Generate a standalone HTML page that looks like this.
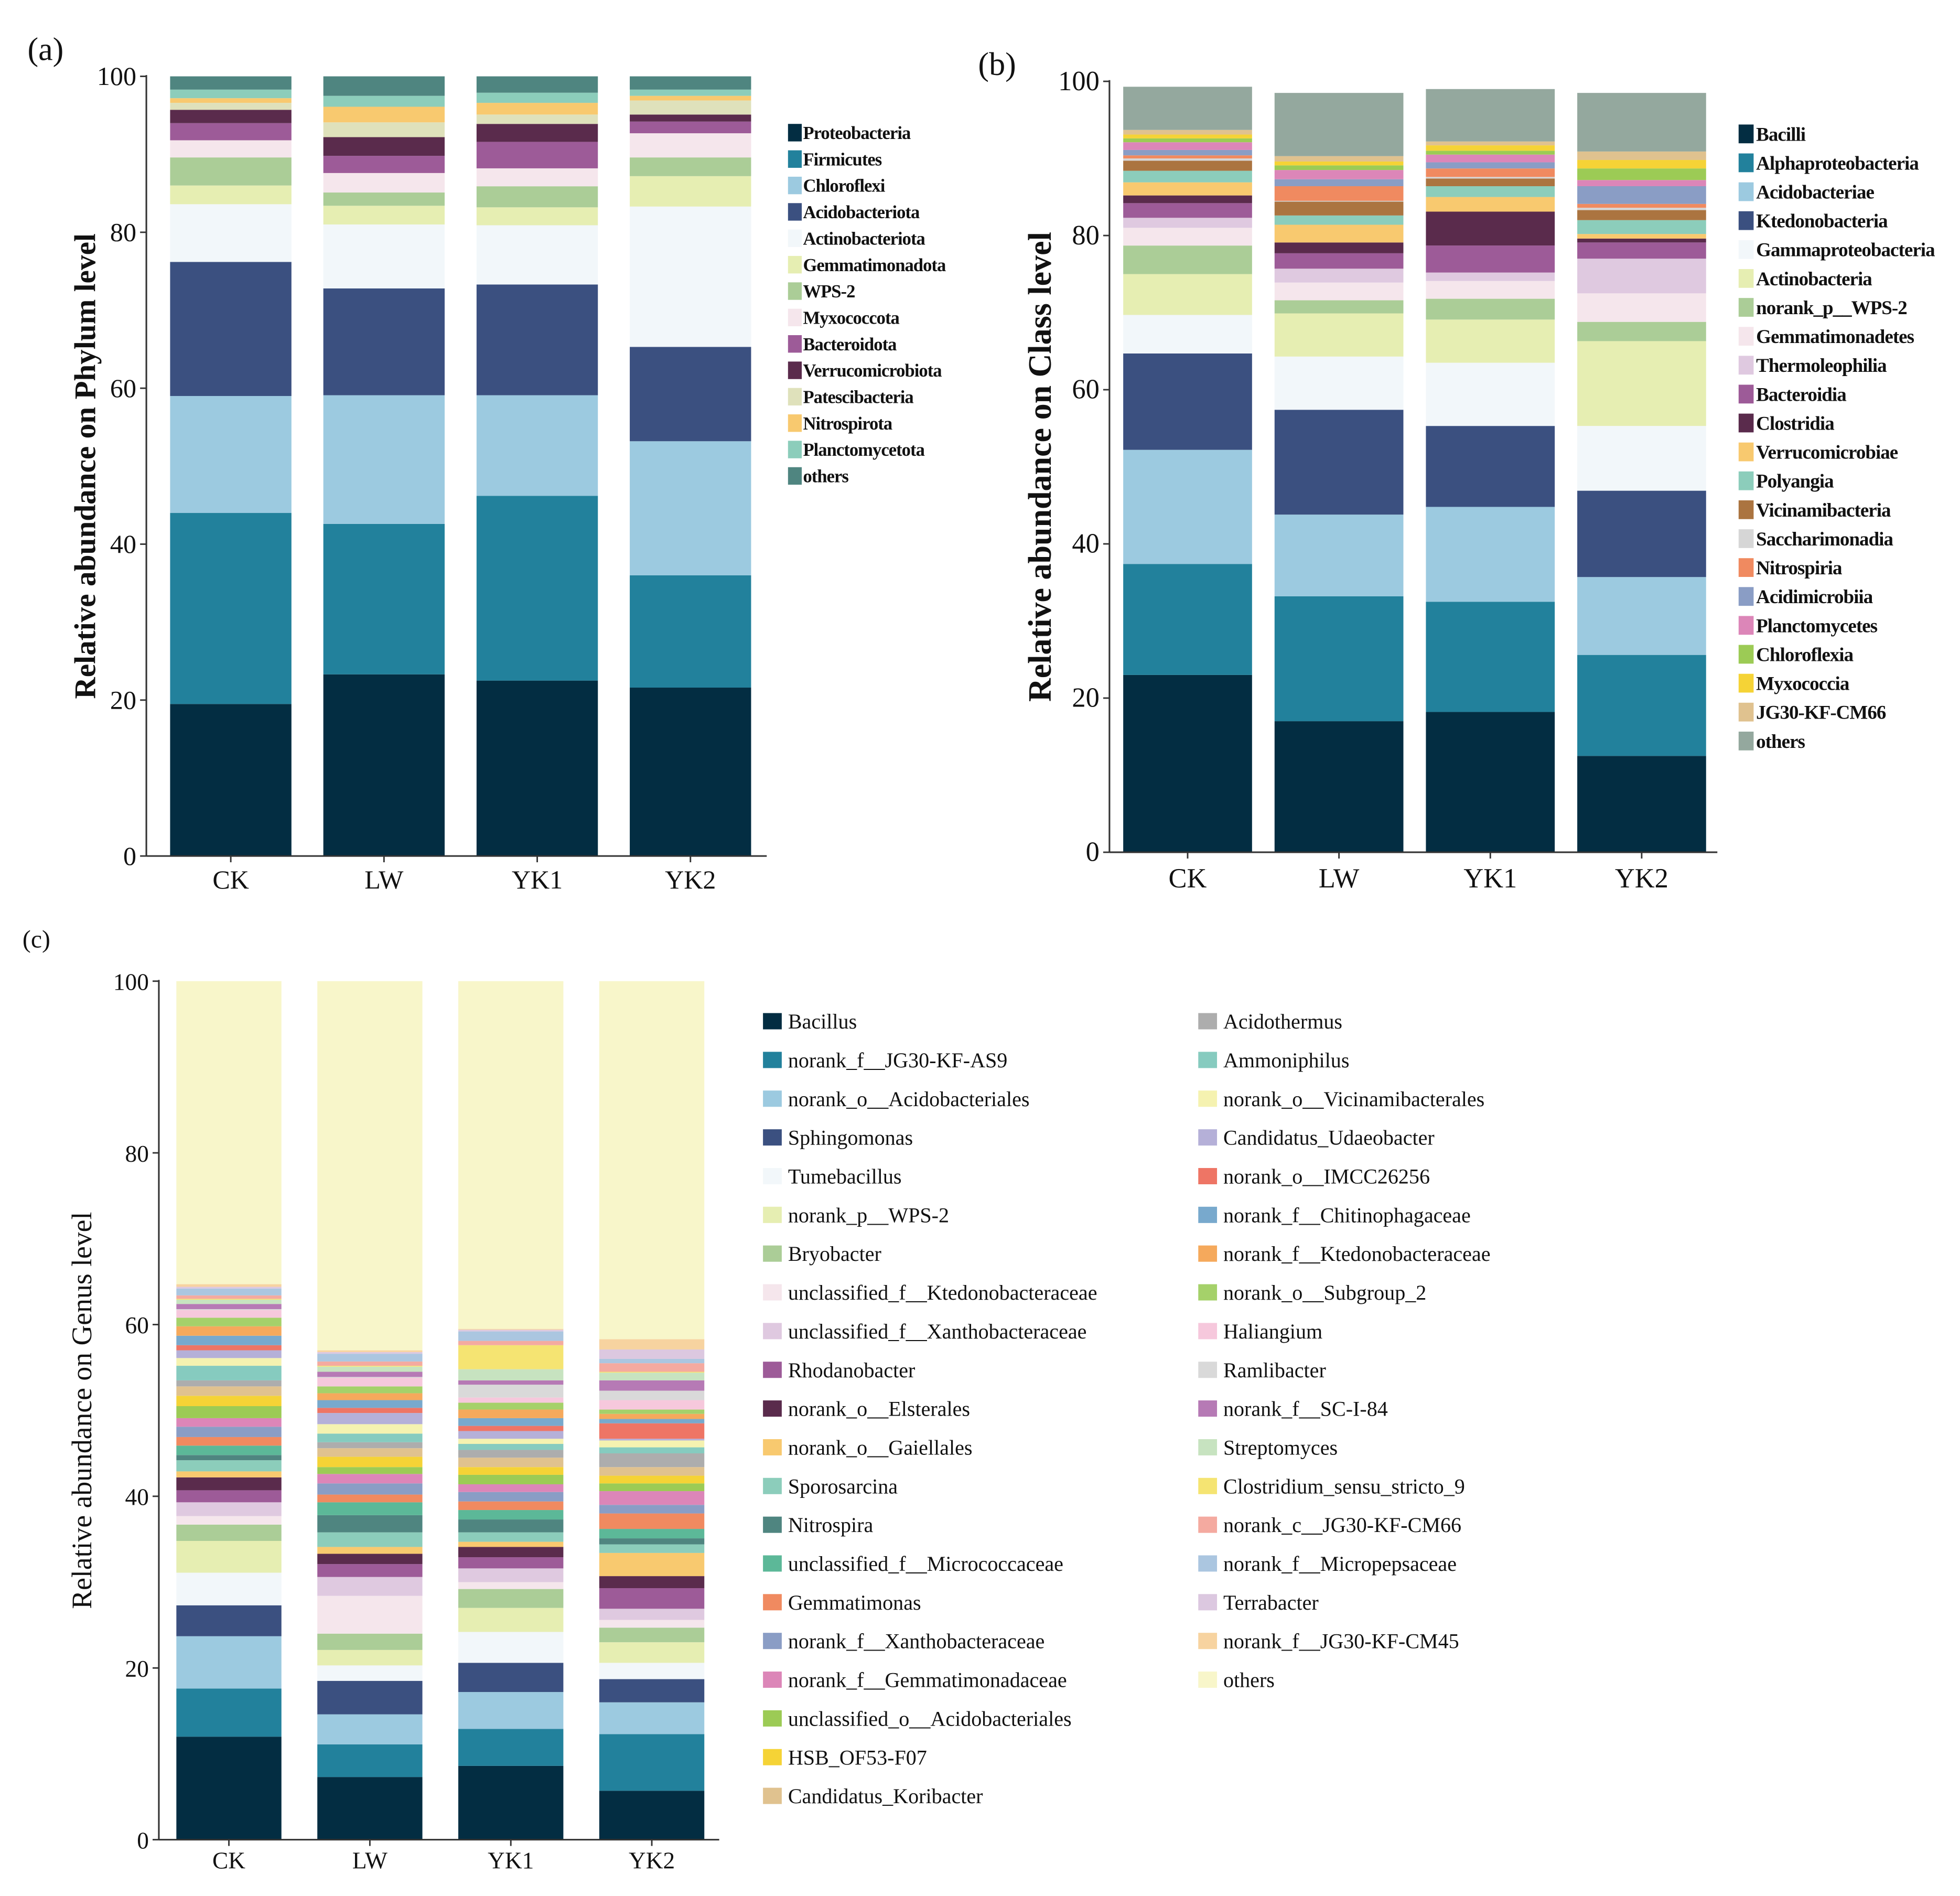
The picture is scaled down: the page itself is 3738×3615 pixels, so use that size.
<!DOCTYPE html>
<html><head><meta charset="utf-8"><style>
html,body{margin:0;padding:0;background:#fff;}
svg{display:block;}
text{font-family:"Liberation Serif",serif;fill:#111;}
</style></head><body>
<svg id="fig" xmlns="http://www.w3.org/2000/svg" width="3738" height="3615" viewBox="0 0 1567 1515" preserveAspectRatio="none">
<rect width="1567" height="1515" fill="#fff"/>
</svg>
<script>
// ---------- shared ----------
const samples = ["CK","LW","YK1","YK2"];
const yTicks = [0,20,40,60,80,100];

// ---------- panel (a) Phylum ----------
const phylumNames = ["Proteobacteria","Firmicutes","Chloroflexi","Acidobacteriota","Actinobacteriota","Gemmatimonadota","WPS-2","Myxococcota","Bacteroidota","Verrucomicrobiota","Patescibacteria","Nitrospirota","Planctomycetota","others"];
const phylumColors = ["#032d42","#22819c","#9ccae0","#3b5080","#f2f7fa","#e6eeb2","#abcd97","#f5e6ec","#9d5b98","#5a2b4c","#dfe1bb","#f8c96f","#8ccdbb","#4f8580"];
// cumulative tops (%) per sample
const phylumCumCK  = [19.5,44.0,59.0,76.2,83.6,86.0,89.6,91.8,94.0,95.7,96.6,97.2,98.3,100];
const phylumCumLW  = [23.3,42.6,59.1,72.8,81.0,83.4,85.1,87.6,89.8,92.2,94.1,96.1,97.5,100];
const phylumCumYK1 = [22.5,46.2,59.1,73.3,80.9,83.2,85.9,88.2,91.6,93.9,95.1,96.6,97.9,100];
const phylumCumYK2 = [21.6,36.0,53.2,65.3,83.3,87.2,89.6,92.7,94.2,95.1,96.9,97.5,98.3,100];

// ---------- panel (b) Class ----------
const classNames = ["Bacilli","Alphaproteobacteria","Acidobacteriae","Ktedonobacteria","Gammaproteobacteria","Actinobacteria","norank_p__WPS-2","Gemmatimonadetes","Thermoleophilia","Bacteroidia","Clostridia","Verrucomicrobiae","Polyangia","Vicinamibacteria","Saccharimonadia","Nitrospiria","Acidimicrobiia","Planctomycetes","Chloroflexia","Myxococcia","JG30-KF-CM66","others"];
const classColors = ["#032d42","#22819c","#9ccae0","#3b5080","#f2f7fa","#e6eeb2","#abcd97","#f5e6ec","#dfc9e0","#9d5b98","#5a2b4c","#f8c96f","#8ccdbb","#ab7440","#d6d6d6","#f08a60","#8a9dc5","#dc86b8","#9ccb55","#f5d336","#e0c28f","#94a89e"];
const classCumCK  = [23.0,37.4,52.2,64.7,69.7,75.0,78.7,81.0,82.3,84.2,85.2,86.9,88.4,89.7,90.0,90.4,91.1,92.1,92.6,93.1,93.7,99.3];
const classCumLW  = [17.0,33.2,43.8,57.4,64.3,69.9,71.6,73.9,75.7,77.7,79.1,81.4,82.6,84.4,84.5,86.4,87.3,88.5,89.1,89.6,90.3,98.5];
const classCumYK1 = [18.2,32.5,44.8,55.3,63.5,69.1,71.8,74.1,75.2,78.7,83.1,85.0,86.4,87.4,87.6,88.7,89.5,90.5,91.0,91.7,92.2,99.0];
const classCumYK2 = [12.5,25.6,35.7,46.9,55.3,66.3,68.8,72.5,77.0,79.1,79.6,80.2,82.0,83.3,83.6,84.1,86.4,87.2,88.7,89.8,90.9,98.5];

// ---------- panel (c) Genus ----------
const genusNames = ["Bacillus","norank_f__JG30-KF-AS9","norank_o__Acidobacteriales","Sphingomonas","Tumebacillus","norank_p__WPS-2","Bryobacter","unclassified_f__Ktedonobacteraceae","unclassified_f__Xanthobacteraceae","Rhodanobacter","norank_o__Elsterales","norank_o__Gaiellales","Sporosarcina","Nitrospira","unclassified_f__Micrococcaceae","Gemmatimonas","norank_f__Xanthobacteraceae","norank_f__Gemmatimonadaceae","unclassified_o__Acidobacteriales","HSB_OF53-F07","Candidatus_Koribacter","Acidothermus","Ammoniphilus","norank_o__Vicinamibacterales","Candidatus_Udaeobacter","norank_o__IMCC26256","norank_f__Chitinophagaceae","norank_f__Ktedonobacteraceae","norank_o__Subgroup_2","Haliangium","Ramlibacter","norank_f__SC-I-84","Streptomyces","Clostridium_sensu_stricto_9","norank_c__JG30-KF-CM66","norank_f__Micropepsaceae","Terrabacter","norank_f__JG30-KF-CM45","others"];
const genusColors = ["#032d42","#22819c","#9ccae0","#3b5080","#f2f7fa","#e6eeb2","#abcd97","#f5e6ec","#dfc9e0","#9d5b98","#5a2b4c","#f8c96f","#8ccdbb","#4f8580","#5cb898","#f08a60","#8a9dc5","#dc86b8","#9ccb55","#f5d336","#e0c28f","#adadad","#86cbbf","#f5f2b0","#b5b0d8","#ee7565","#78a9cd","#f5a95c","#a5d16a","#f6c8dc","#d9d9d9","#b67ab5","#c7e3c0","#f5e472","#f4aaa0","#abc6e0","#dcc8e0","#f7d3a0","#f8f6ca"];
const genusCumCK  = [12.0,17.6,23.7,27.3,31.1,34.8,36.7,37.7,39.3,40.7,42.2,42.9,44.2,44.8,45.9,46.9,48.1,49.1,50.5,51.7,52.8,53.5,55.2,56.1,57.0,57.6,58.7,59.8,60.8,61.7,61.8,62.4,62.9,63.0,63.4,64.2,64.4,64.7,100];
const genusCumLW  = [7.3,11.1,14.6,18.5,20.3,22.1,24.0,28.4,30.6,32.1,33.3,34.1,35.8,37.8,39.3,40.2,41.5,42.6,43.4,44.6,45.6,46.3,47.3,48.4,49.7,50.3,51.2,52.0,52.8,53.8,53.9,54.5,55.1,55.2,55.7,56.6,56.8,57.0,100];
const genusCumYK1 = [8.6,12.9,17.2,20.6,24.2,27.0,29.2,30.0,31.6,32.9,34.1,34.7,35.8,37.3,38.4,39.4,40.5,41.4,42.5,43.4,44.5,45.4,46.1,46.7,47.6,48.2,49.1,50.1,50.9,51.5,53.0,53.5,54.8,57.6,58.1,59.2,59.4,59.5,100];
const genusCumYK2 = [5.7,12.3,16.0,18.7,20.6,23.0,24.7,25.6,26.9,29.3,30.7,33.4,34.4,35.1,36.2,38.0,39.0,40.6,41.5,42.4,43.4,45.0,45.7,46.5,46.7,48.5,49.0,49.6,50.1,51.2,52.3,53.5,54.4,54.5,55.5,56.0,57.1,58.3,100];

const NS="http://www.w3.org/2000/svg";
const svg=document.getElementById('fig');
function mk(tag,attrs,parent){const e=document.createElementNS(NS,tag);for(const k in attrs)e.setAttribute(k,attrs[k]);(parent||svg).appendChild(e);return e;}

function drawPanel(cfg){
  const g=mk('g',{});
  
  
  const yS=v=>cfg.bottom-v/100*(cfg.bottom-cfg.top);
  const xS=i=>cfg.barX0+i*cfg.barStep;
  cfg.cums.forEach((cum,si)=>{
    let prev=0;
    cum.forEach((c,ti)=>{
      const r=mk('rect',{x:xS(si),y:yS(c),width:cfg.barW,height:Math.max(0,yS(prev)-yS(c)),fill:cfg.colors[ti]},g);
      
      
      prev=c;
    });
  });
  const ya=mk('line',{x1:cfg.axisX,y1:cfg.top-1,x2:cfg.axisX,y2:cfg.bottom,stroke:'#333','stroke-width':1.3},g);
  
  
  const xa=mk('line',{x1:cfg.axisX,y1:cfg.bottom,x2:cfg.axisEnd,y2:cfg.bottom,stroke:'#333','stroke-width':1.3},g);
  
  
  yTicks.forEach(t=>{
    mk('line',{x1:cfg.axisX-5,y1:yS(t),x2:cfg.axisX,y2:yS(t),stroke:'#333','stroke-width':1.2},g);
    const tx=mk('text',{x:cfg.axisX-8,y:yS(t)+7,'text-anchor':'end','font-size':cfg.tickFs},g);
    tx.textContent=t;
    
    
  });
  samples.forEach((s,i)=>{
    const cx=xS(i)+cfg.barW/2;
    mk('line',{x1:cx,y1:cfg.bottom,x2:cx,y2:cfg.bottom+5,stroke:'#333','stroke-width':1.2},g);
    const tx=mk('text',{x:cx,y:cfg.bottom+cfg.xLabDy,'text-anchor':'middle','font-size':cfg.tickFs},g);
    tx.textContent=s;
    
    
  });
  const yt=mk('text',{x:0,y:0,'text-anchor':'middle','font-size':cfg.titleFs,'font-weight':cfg.titleW,transform:`translate(${cfg.titleX},${(cfg.top+cfg.bottom)/2}) rotate(-90)`},g);
  yt.textContent=cfg.title;
  
  
  const pl=mk('text',{x:cfg.labX,y:cfg.labY,'font-size':cfg.labFs},g);
  pl.textContent=cfg.label;
  
  
  cfg.names.forEach((n,i)=>{
    const col=cfg.legCols?(i<cfg.legCols?0:1):0;
    const row=cfg.legCols?(i<cfg.legCols?i:i-cfg.legCols):i;
    const lx=cfg.legX[col], ly=cfg.legY+row*cfg.legStep;
    const lg=mk('g',{},g);
    
    
    mk('rect',{x:lx,y:ly-cfg.sqH/2,width:cfg.sqW,height:cfg.sqH,fill:cfg.colors[i]},lg);
    const t=mk('text',{x:lx+cfg.textDx,y:ly+cfg.legFs*0.35,'font-size':cfg.legFs,'font-weight':cfg.legW,'letter-spacing':cfg.legLs},lg);
    t.textContent=n;
  });
}

drawPanel({id:'phylum',names:phylumNames,colors:phylumColors,cums:[phylumCumCK,phylumCumLW,phylumCumYK1,phylumCumYK2],
  top:61,bottom:684,axisX:117,axisEnd:613,barX0:136,barStep:122.5,barW:97,tickFs:21,xLabDy:26,
  title:'Relative abundance on Phylum level',titleFs:24,titleW:'bold',titleX:76,label:'(a)',labX:22,labY:48,labFs:26,
  legX:[630],legY:106,legStep:21.1,sqW:11,sqH:14,textDx:12,legFs:14.5,legW:'bold',legLs:-0.4});
drawPanel({id:'class',names:classNames,colors:classColors,cums:[classCumCK,classCumLW,classCumYK1,classCumYK2],
  top:65,bottom:681,axisX:887,axisEnd:1373,barX0:898,barStep:121,barW:103,tickFs:22,xLabDy:28,
  title:'Relative abundance on Class level',titleFs:26,titleW:'bold',titleX:840,label:'(b)',labX:782,labY:60,labFs:26,
  legX:[1390],legY:107,legStep:23.1,sqW:12,sqH:15,textDx:14,legFs:15.5,legW:'bold',legLs:-0.4});
drawPanel({id:'genus',names:genusNames,colors:genusColors,cums:[genusCumCK,genusCumLW,genusCumYK1,genusCumYK2],
  top:784,bottom:1470,axisX:127,axisEnd:575,barX0:141,barStep:112.7,barW:84,tickFs:19,xLabDy:23,
  title:'Relative abundance on Genus level',titleFs:22.5,titleW:'normal',titleX:73,label:'(c)',labX:18,labY:757,labFs:20,
  legCols:21,legX:[610,958],legY:816,legStep:30.95,sqW:15,sqH:13,textDx:20,legFs:16.8,legW:'normal',legLs:0});
</script>
</body></html>
